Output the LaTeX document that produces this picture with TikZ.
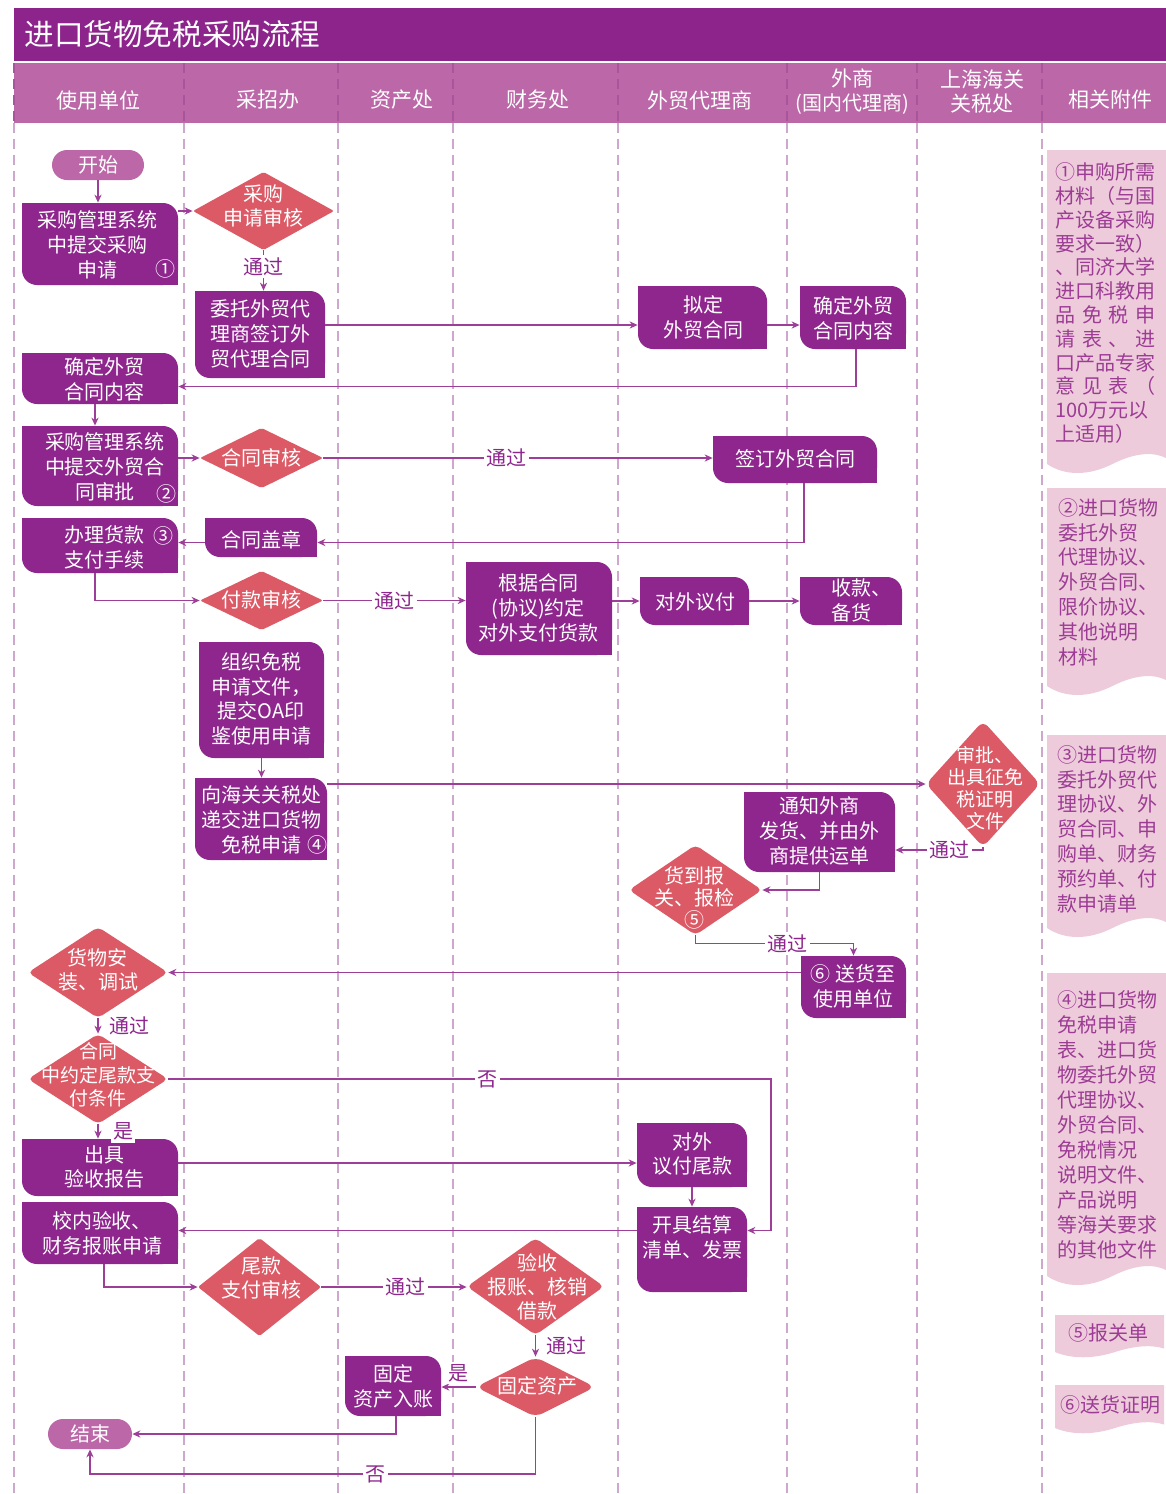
\documentclass[tikz,border=0pt]{standalone}
\usepackage{fontspec}
\setmainfont{Noto Sans CJK SC}
\usetikzlibrary{arrows.meta,fit,calc}

\definecolor{titlec}{HTML}{8C248C}
\definecolor{headc}{HTML}{BB67A8}
\definecolor{boxc}{HTML}{8E268D}
\definecolor{diac}{HTML}{DC5A66}
\definecolor{linec}{HTML}{9D3E99}
\definecolor{attc}{HTML}{EECBDB}
\definecolor{attxt}{HTML}{9C3C95}
\definecolor{lanec}{HTML}{CDA8CC}
\definecolor{lanehdc}{HTML}{A8559C}

\tikzset{
 boxtext/.style={text=white, align=center, inner sep=0pt, font=\fontsize{10}{12.4}\selectfont},
 diatext/.style={text=white, align=center, inner sep=0pt, font=\fontsize{10}{12}\selectfont},
 bfit/.style={inner sep=0pt, draw=none},
 pill/.style={fill=headc, text=white, rounded corners=7.5pt, inner sep=0pt, font=\fontsize{10}{12}\selectfont},
 conn/.style={draw=linec, line width=0.6pt},
 arr/.style={conn, -{Stealth[length=4pt,width=3.6pt]}},
 lbl/.style={fill=white, text=boxc, inner sep=1.2pt, font=\fontsize{10}{12}\selectfont},
 lane/.style={draw=lanec, line width=0.6pt, dash pattern=on 5pt off 3pt},
 lanehd/.style={draw=lanehdc, line width=0.6pt, dash pattern=on 5pt off 3pt},
 headtext/.style={text=white, align=center, inner sep=0pt, font=\fontsize{10.5}{12}\selectfont},
 atext/.style={text=attxt, align=left, anchor=west, inner sep=0pt, font=\fontsize{10}{12.4}\selectfont},
}

% leaf-shaped box: name, x0, y0, x1, y1, text centre, text options, text
\newcommand\lbox[8]{%
 \fill[boxc, rounded corners=7.5pt] (#2,#3) rectangle (#4,#5);
 \fill[boxc] (#2,#3) rectangle ++(8pt,-8pt);
 \fill[boxc] (#4,#5) rectangle ++(-8pt,8pt);
 \node[bfit, fit={(#2,#3) (#4,#5)}] (#1) {};
 \node[boxtext,#7] (#1t) at (#6) {#8};
}
% diamond: name, x0, y0, x1, y1, text centre, text options, text, corner radius
\newcommand\dbox[9]{%
 \fill[diac, rounded corners=#9] ({(#2+#4)/2},#3) -- (#4,{(#3+#5)/2}) -- ({(#2+#4)/2},#5) -- (#2,{(#3+#5)/2}) -- cycle;
 \node[bfit, fit={(#2,#3) (#4,#5)}] (#1) {};
 \node[diatext,#7] (#1t) at (#6) {#8};
}
% attachment sheet with wavy bottom: x0, y0, x1, yb, amplitude
\newcommand\attach[5]{%
 \fill[attc] (#1,#2) -- (#3,#2) -- (#3,{#4-0.5*#5})
  .. controls ({#3-0.1*(#3-#1)},{#4-#5}) and ({#3-0.25*(#3-#1)},{#4-#5}) .. ({#3-0.45*(#3-#1)},#4)
  .. controls ({#3-0.65*(#3-#1)},{#4+#5}) and ({#1+0.15*(#3-#1)},{#4+#5}) .. (#1,#4) -- cycle;
}
\newcommand\jus[1]{\makebox[50pt][s]{#1}}

\begin{document}
\begin{tikzpicture}[x=0.5pt,y=-0.5pt]
\useasboundingbox (0,0) rectangle (1166,1494);

% title and header
\fill[titlec] (14,8) rectangle (1166,61);
\fill[headc] (14,63) rectangle (1166,123);
\foreach \x in {14,184,338,453,618,787,917,1042}{
 \draw[lanehd] (\x,63) -- (\x,123);
 \draw[lane] (\x,123) -- (\x,1494);
}
\node[anchor=west, text=white, inner sep=0pt, font=\fontsize{14.8}{17}\selectfont] (title) at (24,34) {进口货物免税采购流程};
\node[headtext] (h1) at (98,100) {使用单位};
\node[headtext] (h2) at (268,100) {采招办};
\node[headtext] (h3) at (402,100) {资产处};
\node[headtext] (h4) at (538,100) {财务处};
\node[headtext] (h5) at (700,100) {外贸代理商};
\node[headtext] (h6) at (852,92) {外商\\{\fontsize{10}{12}\selectfont(国内代理商)}};
\node[headtext] (h7) at (982,92) {上海海关\\关税处};
\node[headtext] (h8) at (1110,100) {相关附件};

% attachments
\attach{1047}{150}{1166}{464}{12}
\attach{1047}{488}{1166}{686}{12}
\attach{1047}{735}{1166}{928}{12}
\attach{1047}{973}{1166}{1276}{12}
\attach{1055}{1315}{1164}{1352}{7}
\attach{1055}{1385}{1164}{1428}{7}
\node[atext, font=\fontsize{10}{11.9}\selectfont] (a1) at (1055,303) {①申购所需\\材料（与国\\产设备采购\\要求一致）\\、同济大学\\进口科教用\\\jus{品 免 税 申}\\\jus{请 表 、 进}\\口产品专家\\\jus{意 见 表 （}\\100万元以\\上适用）};
\node[atext] (a2) at (1058,582) {②进口货物\\委托外贸\\代理协议、\\外贸合同、\\限价协议、\\其他说明\\材料};
\node[atext] (a3) at (1057,829) {③进口货物\\委托外贸代\\理协议、外\\贸合同、申\\购单、财务\\预约单、付\\款申请单};
\node[atext, font=\fontsize{10}{12.5}\selectfont] (a4) at (1057,1125) {④进口货物\\免税申请\\表、进口货\\物委托外贸\\代理协议、\\外贸合同、\\免税情况\\说明文件、\\产品说明\\等海关要求\\的其他文件};
\node[atext, anchor=center] (a5) at (1108,1333) {⑤报关单};
\node[atext, anchor=center] (a6) at (1110,1405) {⑥送货证明};

% terminals
\node[pill, minimum width=46pt, minimum height=15pt] (startn) at (98,165) {开始};
\node[pill, minimum width=42pt, minimum height=15pt] (endn) at (90,1434) {结束};

% process boxes and decisions
\lbox{b1}{22}{203}{178}{285}{98,245}{}{采购管理系统\\中提交采购\\申请}
\node[boxtext] (n1) at (165,269) {①};
\dbox{d1}{193}{172}{334}{250}{263,206}{}{采购\\申请审核}{1pt}
\lbox{b2}{195}{291}{325}{378}{260,334}{}{委托外贸代\\理商签订外\\贸代理合同}
\lbox{ndraft}{638}{286}{767}{349}{703,317}{}{拟定\\外贸合同}
\lbox{nconf}{800}{286}{906}{349}{853,318}{}{确定外贸\\合同内容}
\lbox{b3}{22}{353}{178}{404}{104,379}{}{确定外贸\\合同内容}
\lbox{b4}{22}{426}{178}{506}{105,467}{}{采购管理系统\\中提交外贸合\\同审批}
\node[boxtext] (n2) at (166,494) {②};
\dbox{d2}{200}{428}{323}{488}{261,458}{}{合同审核}{1pt}
\lbox{nsign}{713}{436}{877}{483}{795,459}{}{签订外贸合同}
\lbox{nseal}{205}{518}{317}{557}{261,540}{}{合同盖章}
\lbox{b5}{22}{518}{178}{573}{104,547}{}{办理货款\\支付手续}
\node[boxtext] (n3) at (163,536) {③};
\dbox{d3}{200}{571}{323}{630}{261,600}{}{付款审核}{1pt}
\lbox{npay}{466}{562}{612}{655}{538,608}{}{根据合同\\(协议)约定\\对外支付货款}
\lbox{nnego}{640}{577}{749}{625}{695,602}{}{对外议付}
\lbox{nrecv}{800}{577}{902}{625}{851,600}{}{收款\rlap{、}\\备货}
\lbox{norg}{199}{642}{324}{758}{261,699}{}{组织免税\\申请文件，\\提交OA印\\鉴使用申请}
\lbox{ncust}{195}{778}{327}{860}{261,820}{}{向海关关税处\\递交进口货物\\免税申请}
\node[boxtext] (n4) at (317,845) {④};
\dbox{dappr}{926}{721}{1040}{847}{985,788}{font=\fontsize{9.5}{11}\selectfont}{审批、\\出具征免\\税证明\\文件}{3.5pt}
\lbox{nnot}{744}{792}{895}{872}{819,831}{}{通知外商\\发货、并由外\\商提供运单}
\dbox{dcus}{629}{845}{762}{935}{694,898}{font=\fontsize{10}{11}\selectfont}{货到报\\关、报检\\⑤}{2.5pt}
\lbox{nship}{801}{956}{906}{1018}{853,986}{}{⑥ 送货至\\使用单位}
\dbox{dinst}{28}{927}{168}{1018}{98,970}{}{货物安\\装、调试}{2.5pt}
\dbox{dcond}{28}{1034}{168}{1124}{98,1075}{font=\fontsize{9.5}{11.7}\selectfont}{合同\\中约定尾款支\\付条件}{2.5pt}
\lbox{nrep}{22}{1139}{178}{1196}{104,1167}{}{出具\\验收报告}
\lbox{nwk}{637}{1123}{747}{1187}{692,1154}{}{对外\\议付尾款}
\lbox{nsett}{637}{1207}{747}{1292}{692,1237}{}{开具结算\\清单、发票}
\lbox{nacc}{22}{1202}{178}{1264}{102,1233}{}{校内验收、\\财务报账申请}
\dbox{dtail}{198}{1238}{321}{1336}{261,1278}{}{尾款\\支付审核}{1pt}
\dbox{dchk}{467}{1238}{604}{1335}{537,1287}{}{验收\\报账、核销\\借款}{2.5pt}
\dbox{dfix}{476}{1357}{595}{1417}{537,1386}{}{固定资产}{4pt}
\lbox{nfa}{345}{1356}{441}{1416}{393,1386}{}{固定\\资产入账}

\coordinate (kx) at (771,0);
\coordinate (kb) at (0,1474);

% connectors
\draw[arr] (startn.south) -- (startn.south |- b1.north);
\draw[arr] (b1.east |- d1.west) -- (d1.west);
\draw[arr] (d1.south) -- node[lbl,pos=0.4]{通过} (d1.south |- b2.north);
\draw[arr] ([yshift=4.75pt]b2.east) -- ([yshift=4.75pt]b2.east -| ndraft.west);
\draw[arr] ([yshift=-3.75pt]ndraft.east) -- ([yshift=-3.75pt]ndraft.east -| nconf.west);
\draw[arr] ([xshift=1.5pt]nconf.south) |- ([yshift=-4pt]b3.east);
\draw[arr] ([xshift=-2.5pt]b3.south) -- ([xshift=-2.5pt]b4.north);
\draw[arr] (b4.east |- d2.west) -- (d2.west);
\draw[arr] (d2.east) -- node[lbl,pos=0.47]{通过} (d2.east -| nsign.west);
\draw[arr] ([xshift=4.5pt]nsign.south) |- ([yshift=-2.5pt]nseal.east);
\draw[arr] ([yshift=-2.5pt]nseal.west) -- ([yshift=-2.5pt]nseal.west -| b5.east);
\draw[arr] ([xshift=-2.5pt]b5.south) |- (d3.west);
\draw[arr] (d3.east) -- node[lbl,pos=0.5]{通过} (d3.east -| npay.west);
\draw[arr] (npay.east |- nnego.west) -- (nnego.west);
\draw[arr] (nnego.east) -- (nrecv.west);
\draw[arr] (norg.south) -- (norg.south |- ncust.north);
\draw[arr] (ncust.east |- dappr.west) -- (dappr.west);
\draw[arr] (dappr.south) |- node[lbl,pos=0.69]{通过} ([yshift=-9pt]nnot.east);
\draw[arr] (nnot.south) |- (dcus.east);
\draw[arr] (dcus.south) -- ([yshift=-4pt]dcus.south) -| node[lbl,pos=0.29]{通过} (nship.north);
\draw[arr] (nship.west |- dinst.east) -- (dinst.east);
\draw[arr] (dinst.south) -- node[lbl, anchor=west, xshift=4pt]{通过} (dinst.south |- dcond.north);
\draw[arr] (dcond.east) -- node[lbl,pos=0.53]{否} (dcond.east -| kx) |- ([yshift=9.5pt]nsett.east);
\draw[arr] (dcond.south) -- node[lbl, anchor=west, xshift=6pt]{是} (dcond.south |- nrep.north);
\draw[arr] ([yshift=2.25pt]nrep.east) -- ([yshift=2.25pt]nrep.east -| nwk.west);
\draw[arr] (nwk.south) -- (nsett.north);
\draw[arr] ([yshift=9.5pt]nsett.west) -- ([yshift=9.5pt]nsett.west -| nacc.east);
\draw[arr] ([xshift=2pt]nacc.south) |- (dtail.west);
\draw[arr] (dtail.east) -- node[lbl,pos=0.58]{通过} (dtail.east -| dchk.west);
\draw[arr] (dchk.south) -- node[lbl, anchor=west, xshift=4pt]{通过} (dfix.north);
\draw[arr] (dfix.west) -- node[lbl, anchor=south, yshift=1pt]{是} (dfix.west -| nfa.east);
\draw[arr] ([xshift=1.5pt]nfa.south) |- (endn.east);
\draw[arr] (dfix.south) |- node[lbl,pos=0.68]{否} (kb -| endn.south) -- (endn.south);
\end{tikzpicture}
\end{document}
